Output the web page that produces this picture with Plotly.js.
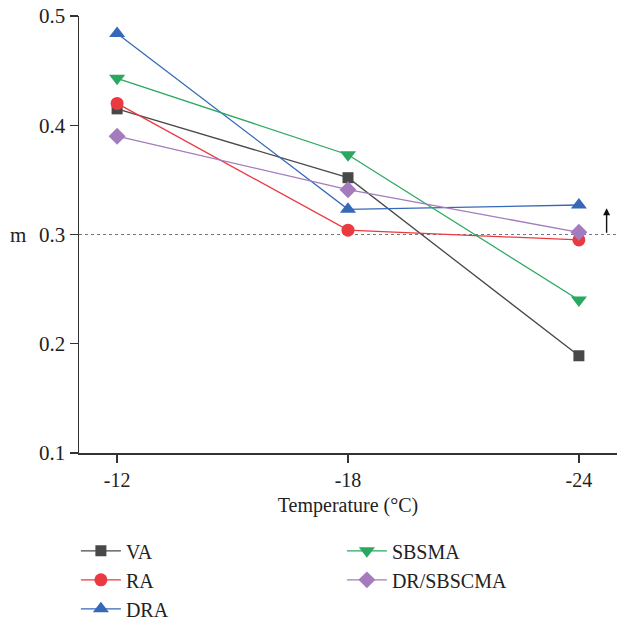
<!DOCTYPE html>
<html>
<head>
<meta charset="utf-8">
<script src="https://cdn.plot.ly/plotly-3.0.1.min.js"></script>
<style>html,body{margin:0;padding:0;background:#fff;}</style>
</head>
<body>
<div id="chart" style="width:617px;height:620px;"></div>
<script>
const categories = ["-12", "-18", "-24"];
const seriesNames = ["VA", "RA", "DRA", "SBSMA", "DR/SBSCMA"];
const VA = [0.415, 0.352, 0.189];
const RA = [0.420, 0.304, 0.295];
const DRA = [0.484, 0.323, 0.327];
const SBSMA = [0.443, 0.373, 0.240];
const DR_SBSCMA = [0.390, 0.341, 0.302];
const yTicks = [0.1, 0.2, 0.3, 0.4, 0.5];
const thresholdValue = 0.3;

const xIdx = categories.map((c, i) => i);
const font = "Liberation Serif, Times New Roman, serif";

const styles = [
  {color: "#484848", symbol: "square", size: 11, rank: 1},
  {color: "#ea3a40", symbol: "circle", size: 13, rank: 3},
  {color: "#3568b8", symbol: "triangle-up", size: 14, rank: 5},
  {color: "#2aa860", symbol: "triangle-down", size: 14, rank: 2},
  {color: "#a47bbd", symbol: "diamond", size: 13, rank: 4}
];
const values = [VA, RA, DRA, SBSMA, DR_SBSCMA];

const traces = values.map((v, i) => ({
  x: xIdx,
  y: v,
  name: seriesNames[i],
  type: "scatter",
  mode: "lines+markers",
  line: {color: styles[i].color, width: 1.3},
  marker: {color: styles[i].color, symbol: styles[i].symbol, size: styles[i].size},
  legendrank: styles[i].rank
}));

const layout = {
  width: 617,
  height: 620,
  margin: {l: 79, r: 0, t: 16, b: 167},
  paper_bgcolor: "#fff",
  plot_bgcolor: "#fff",
  font: {family: font, size: 20, color: "#222"},
  showlegend: true,
  legend: {
    orientation: "h",
    xref: "container", yref: "container",
    x: 0.123, xanchor: "left",
    y: 0.143, yanchor: "top",
    entrywidth: 211,
    font: {family: font, size: 20, color: "#222"},
    itemwidth: 40,
    traceorder: "normal"
  },
  xaxis: {
    range: [-0.165, 2.165],
    tickvals: xIdx,
    ticktext: categories,
    showgrid: false,
    zeroline: false,
    showline: true,
    linecolor: "#333",
    linewidth: 1.5,
    ticks: "outside",
    ticklen: 8,
    tickwidth: 1.3,
    tickcolor: "#333",
    tickfont: {family: font, size: 20, color: "#222"},
    title: {text: "Temperature (°C)", font: {family: font, size: 20, color: "#222"}, standoff: 8}
  },
  yaxis: {
    range: [0.1, 0.5],
    tickvals: yTicks,
    ticktext: yTicks.map(t => t.toFixed(1)),
    showgrid: false,
    zeroline: false,
    showline: true,
    linecolor: "#333",
    linewidth: 1.5,
    ticks: "outside",
    ticklen: 8,
    tickwidth: 1.3,
    tickcolor: "#333",
    tickfont: {family: font, size: 21, color: "#222"}
  },
  shapes: [{
    type: "line", xref: "paper", yref: "y",
    x0: 0, x1: 1, y0: thresholdValue, y1: thresholdValue,
    line: {color: "#777", width: 1, dash: "3px,3px"},
    layer: "below"
  }],
  annotations: [
    {
      xref: "paper", yref: "y", x: -0.113, y: thresholdValue,
      text: "m", showarrow: false, xanchor: "center", yanchor: "middle",
      font: {family: font, size: 21, color: "#222"}
    },
    {
      xref: "x", yref: "y", x: 2.12, y: 0.324,
      ax: 0, ay: 26, axref: "pixel", ayref: "pixel",
      text: "", showarrow: true, arrowhead: 2, arrowsize: 1, arrowwidth: 1.4,
      arrowcolor: "#111"
    }
  ]
};

Plotly.newPlot("chart", traces, layout, {displayModeBar: false, staticPlot: true});
</script>
</body>
</html>
